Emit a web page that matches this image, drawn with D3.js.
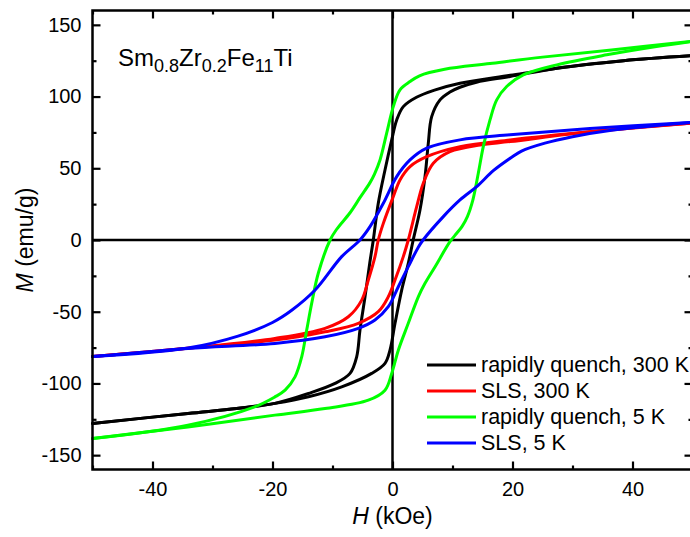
<!DOCTYPE html>
<html><head><meta charset="utf-8">
<script src="https://cdn.jsdelivr.net/npm/d3@7"></script>
<style>
body{margin:0;background:#fff;}
svg{display:block;font-family:"Liberation Sans",Arial,sans-serif;}
</style>
</head><body>
<svg id="chart" width="690" height="537"></svg>
<script>
// ---------- data ----------
const seriesNames = ["rapidly quench, 300 K", "SLS, 300 K", "rapidly quench, 5 K", "SLS, 5 K"];
const seriesColors = ["#000000", "#ff0000", "#00ff00", "#0000ff"];

// rapidly quench, 300 K
const rq300DownH = [50, 38.5, 27.4, 19.6, 11.25, 7, 4, 1.8, 0.7, -0.13, -1.25, -2.37, -3.2, -3.8, -4.58, -5.42, -5.97, -7.08, -9.58, -14, -19.6, -26, -34.1, -50];
const rq300DownM = [128.5, 125, 119.8, 114.8, 109.3, 104.5, 99.5, 93, 83.7, 69.8, 48.8, 25.6, 0, -16.3, -39.6, -62.8, -81.4, -93, -100, -107, -113.9, -117.5, -120.9, -127.9];
const rq300UpH = [-50, -34.1, -26, -19.6, -14, -8.47, -3.47, -1.25, -0.42, 0.42, 1.53, 2.63, 3.45, 4.58, 5.42, 5.97, 6.53, 7.92, 9.5, 11.25, 14, 19.6, 27.4, 38.5, 50];
const rq300UpM = [-127.9, -120.9, -117.5, -113.9, -109.3, -102.4, -93, -86, -76.8, -58.1, -34.9, -16.3, 0, 20.9, 44.2, 67.5, 86, 97.7, 103, 106.5, 110, 114, 119.8, 125, 128.5];

// SLS, 300 K
const sls300DownH = [50, 32.9, 19.6, 11.25, 5.7, 2.92, 1.25, 0.13, -1.53, -2.37, -2.92, -4.03, -5.13, -7.36, -11.25, -19.6, -34.1, -50];
const sls300DownM = [81.5, 75.5, 69.8, 65.1, 58.1, 51.2, 41.9, 30.2, 11.6, 0, -11.6, -27.9, -41.9, -53.5, -61.6, -68.6, -75.5, -81.3];
const sls300UpH = [-50, -34.1, -19.6, -11.25, -5.7, -2.37, -0.7, 0.42, 1.8, 2.63, 4.03, 5.13, 6.8, 9.58, 14.6, 19.6, 32.9, 50];
const sls300UpM = [-81.3, -75.5, -69.8, -64, -58.1, -50, -39.6, -27.9, -11.6, 0, 23.2, 39.6, 53.5, 61.6, 66.3, 68.6, 75.5, 81.5];

// rapidly quench, 5 K
const rq5DownH = [50, 36.5, 25, 16.25, 8.7, 4.5, 2.92, 1.25, 0.13, -0.97, -2.08, -3, -3.75, -5.42, -7.08, -9.3, -10.4, -12.37, -13.47, -14.3, -15.13, -16.25, -17.9, -19.6, -22.97, -34.1, -50];
const rq5DownM = [138.5, 132.5, 127.5, 123, 119, 114.5, 110.5, 104.7, 93, 74.5, 55.8, 46, 40, 29.5, 19, 7.5, 0, -23.2, -44.2, -62.8, -81.4, -95.4, -104.7, -109.4, -116.3, -129.1, -138.4];
const rq5UpH = [-50, -34.1, -19.6, -11.25, -4.03, -1.25, -0.13, 0.97, 2.63, 4.3, 5.42, 7.1, 9.58, 10.7, 11.6, 12.5, 13.4, 14.3, 15.13, 16.25, 17.37, 19.03, 21.8, 27.4, 35.7, 44, 50];
const rq5UpM = [-138.4, -130.3, -122.1, -117.5, -111.7, -104.7, -93, -76.8, -58.1, -39.6, -30.2, -18.6, -1.2, 4.7, 9.5, 16.5, 28, 46.5, 65.1, 83.7, 97.7, 107, 115.1, 122.1, 129.1, 134.9, 138.5];

// SLS, 5 K
const sls5DownH = [50, 32.9, 19.6, 11.25, 5.7, 2.92, 0.7, -1.53, -3.75, -5.42, -8.47, -12.9, -16.8, -20, -25.75, -34.1, -50];
const sls5DownM = [82.1, 77.7, 73.3, 69.8, 64, 55.8, 44.2, 25.6, 9.3, 0, -11.6, -34.9, -49, -57.5, -67, -75.3, -81.3];
const sls5UpH = [-50, -34.1, -19.6, -11.25, -5.7, -2.92, -0.7, 0.97, 2.63, 4.3, 5.1, 8.47, 11.25, 14.03, 16.8, 19.8, 21.5, 25.4, 30, 36.5, 50];
const sls5UpM = [-81.3, -75.6, -72.1, -67.5, -61.6, -55.8, -46.5, -32.6, -18.6, -5, 0, 16.3, 27.9, 37.2, 48.3, 57.5, 62, 67.5, 72, 76.5, 82.1];

const xMajorTicks = [-40, -20, 0, 20, 40];
const xMinorTicks = [-50, -30, -10, 10, 30, 50];
const yMajorTicks = [-150, -100, -50, 0, 50, 100, 150];
const yMinorTicks = [-125, -75, -25, 25, 75, 125];

// ---------- drawing ----------
(function () {
const svg = d3.select("#chart");
const pL = 92.5, pR = 692.5, pT = 10.5, pB = 469.5;
const x = d3.scaleLinear().domain([-50, 50]).range([pL, pR]);
const y = d3.scaleLinear().domain([-160, 160]).range([pB, pT]);
const fmt = d => String(d);

const series = [
  {name: seriesNames[0], color: seriesColors[0], branches: [[rq300DownH, rq300DownM], [rq300UpH, rq300UpM]]},
  {name: seriesNames[1], color: seriesColors[1], branches: [[sls300DownH, sls300DownM], [sls300UpH, sls300UpM]]},
  {name: seriesNames[2], color: seriesColors[2], branches: [[rq5DownH, rq5DownM], [rq5UpH, rq5UpM]]},
  {name: seriesNames[3], color: seriesColors[3], branches: [[sls5DownH, sls5DownM], [sls5UpH, sls5UpM]]}
];

// zero lines
svg.append("line").attr("x1", x(0)).attr("x2", x(0)).attr("y1", pT).attr("y2", pB)
  .attr("stroke", "#000").attr("stroke-width", 2.5);
svg.append("line").attr("x1", pL).attr("x2", pR).attr("y1", y(0)).attr("y2", y(0))
  .attr("stroke", "#000").attr("stroke-width", 2.5);

// curves
const line = d3.line().x(d => x(d[0])).y(d => y(d[1])).curve(d3.curveCatmullRom.alpha(0.5));
series.forEach(s => {
  s.branches.forEach(([hs, ms]) => {
    svg.append("path").datum(hs.map((h, i) => [h, ms[i]]))
      .attr("d", line).attr("fill", "none").attr("stroke", s.color)
      .attr("stroke-width", 3).attr("stroke-linejoin", "round").attr("stroke-linecap", "round");
  });
});

// axes
function styleAxis(g) {
  g.select(".domain").remove();
  g.selectAll(".tick line").attr("stroke", "#000").attr("stroke-width", 2.2);
  g.selectAll(".tick text").attr("fill", "#000").attr("font-size", 20)
    .attr("font-family", "'Liberation Sans', Arial, sans-serif");
}
svg.append("g").attr("transform", `translate(0,${pB})`)
  .call(d3.axisBottom(x).tickValues(xMajorTicks).tickSize(-8).tickPadding(12).tickFormat(fmt))
  .call(styleAxis);
svg.append("g").attr("transform", `translate(0,${pB})`)
  .call(d3.axisBottom(x).tickValues(xMinorTicks).tickSize(-4).tickFormat(""))
  .call(styleAxis);
svg.append("g").attr("transform", `translate(0,${pT})`)
  .call(d3.axisTop(x).tickValues(xMajorTicks).tickSize(-8).tickFormat(""))
  .call(styleAxis);
svg.append("g").attr("transform", `translate(0,${pT})`)
  .call(d3.axisTop(x).tickValues(xMinorTicks).tickSize(-4).tickFormat(""))
  .call(styleAxis);
svg.append("g").attr("transform", `translate(${pL},0)`)
  .call(d3.axisLeft(y).tickValues(yMajorTicks).tickSize(-8).tickPadding(11).tickFormat(fmt))
  .call(styleAxis);
svg.append("g").attr("transform", `translate(${pL},0)`)
  .call(d3.axisLeft(y).tickValues(yMinorTicks).tickSize(-4).tickFormat(""))
  .call(styleAxis);
svg.append("g").attr("transform", `translate(${pR},0)`)
  .call(d3.axisRight(y).tickValues(yMajorTicks).tickSize(-8).tickFormat(""))
  .call(styleAxis);
svg.append("g").attr("transform", `translate(${pR},0)`)
  .call(d3.axisRight(y).tickValues(yMinorTicks).tickSize(-4).tickFormat(""))
  .call(styleAxis);

// frame
svg.append("rect").attr("x", pL).attr("y", pT).attr("width", pR - pL).attr("height", pB - pT)
  .attr("fill", "none").attr("stroke", "#000").attr("stroke-width", 2.5);

// axis titles
const yt = svg.append("text").attr("transform", "translate(33,240) rotate(-90)")
  .attr("text-anchor", "middle").attr("font-size", 23).attr("fill", "#000");
yt.append("tspan").attr("font-style", "italic").text("M");
yt.append("tspan").text(" (emu/g)");
const xt = svg.append("text").attr("x", x(0)).attr("y", 524)
  .attr("text-anchor", "middle").attr("font-size", 23).attr("fill", "#000");
xt.append("tspan").attr("font-style", "italic").text("H");
xt.append("tspan").text(" (kOe)");

// composition annotation
const ann = svg.append("text").attr("x", 118).attr("y", 66).attr("font-size", 24).attr("fill", "#000");
const annParts = [["Sm", false], ["0.8", true], ["Zr", false], ["0.2", true], ["Fe", false], ["11", true], ["Ti", false]];
let sub = false;
annParts.forEach(([t, isSub]) => {
  const sp = ann.append("tspan").text(t);
  if (isSub) sp.attr("font-size", 18);
  if (isSub !== sub) sp.attr("dy", isSub ? 6 : -6);
  sub = isSub;
});

// legend
const legend = svg.append("g");
series.forEach((s, i) => {
  const yy = 372 + i * 26;
  legend.append("line").attr("x1", 427).attr("x2", 476).attr("y1", yy - 7).attr("y2", yy - 7)
    .attr("stroke", s.color).attr("stroke-width", 3);
  legend.append("text").attr("x", 481).attr("y", yy).attr("font-size", 21.5).attr("fill", "#000").text(s.name);
});
})();
</script>
</body></html>
